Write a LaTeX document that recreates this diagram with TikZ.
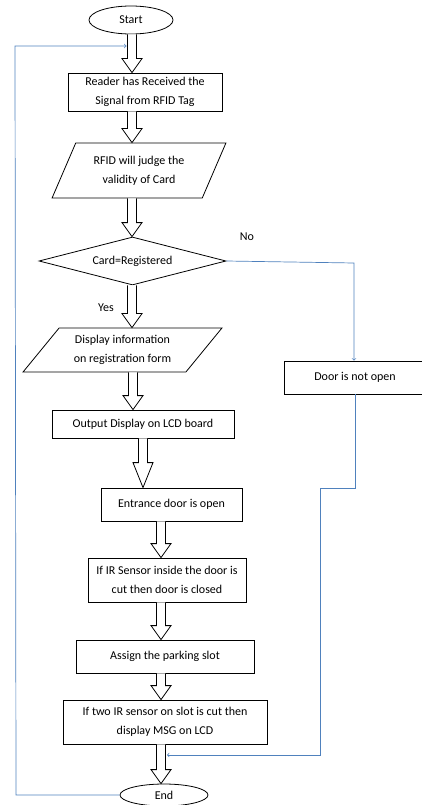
\documentclass[tikz,border=0pt]{standalone}
\usepackage{fontspec}
\setmainfont{Carlito}
\usetikzlibrary{shapes.geometric,calc}
\definecolor{loopblue}{RGB}{79,129,189}
\tikzstyle{term}=[ellipse, draw, inner sep=0pt]
\tikzstyle{proc}=[rectangle, draw, align=center, inner sep=1pt]
\tikzstyle{io}=[trapezium, draw, align=center, trapezium stretches, inner sep=1pt]
\tikzstyle{dec}=[diamond, draw, aspect=3.9, inner sep=0pt]
\tikzstyle{fatarrow}=[draw, fill=white, line join=miter]
\tikzstyle{loopline}=[draw=loopblue, line width=0.7pt]
% hollow block arrow: [head length]{x}{from node}{to node}
\newcommand{\fatarrow}[4][14]{%
  \draw[fatarrow] let \p1=(#3.south), \p2=(#4.north) in
    ({(#2-4.5)*1pt},\y1) -- ({(#2-4.5)*1pt},{\y2+#1pt}) -- ({(#2-10)*1pt},{\y2+#1pt})
    -- ({#2*1pt},\y2) -- ({(#2+10)*1pt},{\y2+#1pt}) -- ({(#2+4.5)*1pt},{\y2+#1pt})
    -- ({(#2+4.5)*1pt},\y1);
}

\begin{document}
\begin{tikzpicture}[x=1pt, y=-1pt, line width=0.8pt, font=\fontsize{12}{19}\selectfont]
\useasboundingbox (0,0) rectangle (422,805);
\clip (0,0) rectangle (422,805);

\draw (131,20) node[term, minimum width=84pt, minimum height=28pt] (start) {Start};
\draw (145,92) node[proc, minimum width=154pt, minimum height=38pt] (reader) {Reader has Received the\\Signal from RFID Tag};
\draw (139,170.5) node[io, trapezium left angle=61, trapezium right angle=119, minimum width=174pt, minimum height=55pt] (judge) {RFID will judge the\\validity of Card};
\draw (132.5,261) node[dec, minimum width=187pt, minimum height=48pt] (card) {Card=Registered};
\draw (122.5,350) node[io, trapezium left angle=48, trapezium right angle=132, minimum width=199pt, minimum height=44pt] (display) {Display information\\on registration form};
\draw (143,424) node[proc, minimum width=182pt, minimum height=28pt] (output) {Output Display on LCD board};
\draw (171.5,504.5) node[proc, minimum width=141pt, minimum height=33pt] (entrance) {Entrance door is open};
\draw (167,580) node[proc, minimum width=158pt, minimum height=44pt] (irdoor) {If IR Sensor inside the door is\\cut then door is closed};
\draw (165,656.5) node[proc, minimum width=178pt, minimum height=33pt] (assign) {Assign the parking slot};
\draw (165,722) node[proc, minimum width=204pt, minimum height=44pt] (twoir) {If two IR sensor on slot is cut then\\display MSG on LCD};
\draw (164,795) node[term, minimum width=88pt, minimum height=22pt] (finish) {End};
\draw (355,377.5) node[proc, minimum width=142pt, minimum height=33pt] (notopen) {Door is not open};

\draw (247,237) node (nolabel) {No};
\draw (106,308) node (yeslabel) {Yes};

\fatarrow{132}{start}{reader}
\fatarrow{132}{reader}{judge}
\fatarrow{132}{judge}{card}
\fatarrow{132}{card}{display}
\fatarrow{133}{display}{output}
\fatarrow[25]{143}{output}{entrance}
\fatarrow{161}{entrance}{irdoor}
\fatarrow{161}{irdoor}{assign}
\fatarrow{161}{assign}{twoir}
\fatarrow{161}{twoir}{finish}

\coordinate (noturn) at (354,263);
\coordinate (dropA) at (355,488);
\coordinate (dropB) at (320,488);
\coordinate (dropC) at (320,755);
\coordinate (mergein) at (167,755);
\coordinate (backA) at (16,795);
\coordinate (backB) at (15,46);
\coordinate (backin) at (126.5,46);

\draw[loopline,->] (card.east) -- (noturn) -- (noturn |- notopen.north);
\draw[loopline,->] (notopen.south) -- (dropA) -- (dropB) -- (dropC) -- (mergein);
\draw[loopline,->] (finish.west) -- (backA) -- (backB) -- (backin);
\end{tikzpicture}
\end{document}
